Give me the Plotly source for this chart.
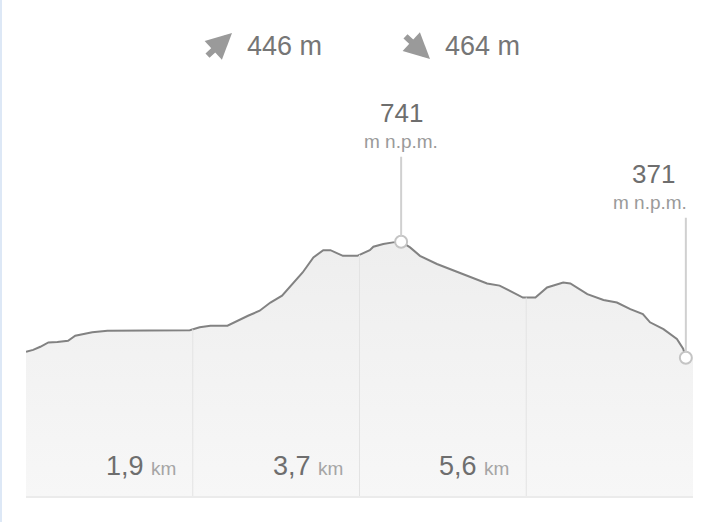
import numpy as np
import plotly.graph_objects as go

# ---- data ----
dist_km = [0.00, 0.08, 0.16, 0.25, 0.35, 0.47, 0.55, 0.66, 0.74, 0.91, 1.16, 1.50, 1.83, 1.94,
           2.06, 2.25, 2.36, 2.48, 2.61, 2.73, 2.86, 2.98, 3.09, 3.21, 3.32, 3.40, 3.47, 3.54,
           3.70, 3.84, 3.88, 3.99, 4.10, 4.19, 4.29, 4.40, 4.59, 4.74, 4.88, 5.04, 5.15, 5.29,
           5.44, 5.55, 5.69, 5.82, 6.00, 6.08, 6.27, 6.45, 6.60, 6.75, 6.89, 6.97, 7.12, 7.27,
           7.34, 7.37]
elev_m = [390, 396, 406, 420, 421, 425, 441, 448, 452, 457, 457, 457, 459, 468,
          473, 473, 489, 505, 521, 547, 569, 607, 643, 691, 714, 714, 706, 696,
          696, 714, 725, 734, 739, 741, 723, 696, 670, 654, 638, 622, 608, 601,
          579, 563, 563, 595, 611, 608, 574, 555, 547, 526, 510, 484, 462, 431,
          400, 371]
total_km = 7.45
ascent_m = 446
descent_m = 464
tick_fracs = [0.25, 0.5, 0.75]
tick_labels = ["1,9", "3,7", "5,6"]
unit_label = "m n.p.m."

# ---- layout constants ----
W, H = 710, 522
ML, MR, MT, MB = 26, 17, 90, 26
PW, PH = W - ML - MR, H - MT - MB
Y_MIN, Y_MAX = -70, 1225

FONT = "Liberation Sans, Arial, Helvetica, sans-serif"

i_max = int(np.argmax(elev_m))
peak_x, peak_y = dist_km[i_max], elev_m[i_max]
end_x, end_y = dist_km[-1], elev_m[-1]

fig = go.Figure()

# baseline for fill
fig.add_trace(go.Scatter(x=[0, total_km], y=[Y_MIN, Y_MIN], mode="lines",
                         line=dict(width=0), hoverinfo="skip", showlegend=False))
# filled area (extends to right edge)
fig.add_trace(go.Scatter(x=dist_km + [total_km], y=elev_m + [end_y], mode="lines",
                         line=dict(width=0), fill="tonexty",
                         fillgradient=dict(type="vertical",
                                           colorscale=[[0, "#f7f7f7"], [1, "#eeeeee"]]),
                         hoverinfo="skip", showlegend=False))

# vertical grid lines under the curve
for f in tick_fracs:
    gx = total_km * f
    gy = float(np.interp(gx, dist_km, elev_m))
    fig.add_shape(type="line", x0=gx, x1=gx, y0=Y_MIN, y1=gy, xref="x", yref="y",
                  line=dict(color="#e3e3e3", width=1), layer="above")

# profile line
fig.add_trace(go.Scatter(x=dist_km, y=elev_m, mode="lines",
                         line=dict(color="#828282", width=2),
                         hoverinfo="skip", showlegend=False))

# marker stems (start at top of marker)
fig.add_shape(type="line", xref="x", yref="y", ysizemode="pixel", yanchor=peak_y,
              x0=peak_x, x1=peak_x, y0=6, y1=85, line=dict(color="#d0d0d0", width=2),
              layer="above")
fig.add_shape(type="line", xref="x", yref="y", ysizemode="pixel", yanchor=end_y,
              x0=end_x, x1=end_x, y0=6, y1=140, line=dict(color="#d0d0d0", width=2),
              layer="above")

# markers
fig.add_trace(go.Scatter(x=[peak_x, end_x], y=[peak_y, end_y], mode="markers",
                         marker=dict(size=12, color="white",
                                     line=dict(color="#c4c4c4", width=2)),
                         hoverinfo="skip", showlegend=False))

# value labels
fig.add_annotation(x=peak_x, y=peak_y, text=str(peak_y), showarrow=False,
                   yshift=129, yanchor="middle", font=dict(size=26, color="#6e6e6e", family=FONT))
fig.add_annotation(x=peak_x, y=peak_y, text=unit_label, showarrow=False,
                   yshift=100, yanchor="middle", font=dict(size=19, color="#9a9a9a", family=FONT))
fig.add_annotation(x=end_x, y=end_y, text=str(end_y), showarrow=False, xshift=-32,
                   yshift=184, yanchor="middle", font=dict(size=26, color="#6e6e6e", family=FONT))
fig.add_annotation(x=end_x, y=end_y, text=unit_label, showarrow=False, xshift=-36,
                   yshift=155, yanchor="middle", font=dict(size=19, color="#9a9a9a", family=FONT))

# distance labels
for f, lab in zip(tick_fracs, tick_labels):
    fig.add_annotation(x=total_km * f, y=Y_MIN, xref="x", yref="y", showarrow=False,
                       xanchor="right", yanchor="middle", xshift=-15, yshift=30,
                       text=f"{lab} <span style='font-size:19px;color:#a5a5a5'>km</span>",
                       font=dict(size=27, color="#6e6e6e", family=FONT))

# header: ascent / descent
def px(xp):
    return (xp - ML) / PW

def py(yp):
    return (H - MB - yp) / PH

fig.add_annotation(x=px(232), y=py(33), xref="paper", yref="paper", ax=-26, ay=24,
                   text="", showarrow=True, arrowhead=2, arrowsize=0.85, arrowwidth=6,
                   arrowcolor="#9a9a9a")
fig.add_annotation(x=px(430), y=py(59), xref="paper", yref="paper", ax=-26, ay=-24,
                   text="", showarrow=True, arrowhead=2, arrowsize=0.85, arrowwidth=6,
                   arrowcolor="#9a9a9a")
fig.add_annotation(x=px(245), y=py(46), xref="paper", yref="paper", showarrow=False,
                   xanchor="left", yanchor="middle", text=f"{ascent_m} m",
                   font=dict(size=27, color="#767676", family=FONT))
fig.add_annotation(x=px(443), y=py(46), xref="paper", yref="paper", showarrow=False,
                   xanchor="left", yanchor="middle", text=f"{descent_m} m",
                   font=dict(size=27, color="#767676", family=FONT))

# left border strip
fig.add_shape(type="rect", xref="paper", yref="paper", x0=px(0), x1=px(2),
              y0=py(H + 5), y1=py(-5), line=dict(width=0), fillcolor="#dde8f6", layer="above")

fig.update_layout(
    width=W, height=H, margin=dict(l=ML, r=MR, t=MT, b=MB),
    paper_bgcolor="white", plot_bgcolor="white",
    xaxis=dict(range=[0, total_km], showgrid=False, zeroline=False, showticklabels=False,
               ticks="", showline=True, linecolor="#ebebeb", linewidth=2, fixedrange=True),
    yaxis=dict(range=[Y_MIN, Y_MAX], showgrid=False, zeroline=False, showticklabels=False,
               ticks="", showline=False, fixedrange=True),
    font=dict(family=FONT),
)

fig.write_html("out.html", config={"displayModeBar": False},
               post_script="document.body.style.margin='0';document.body.style.overflow='hidden';")
